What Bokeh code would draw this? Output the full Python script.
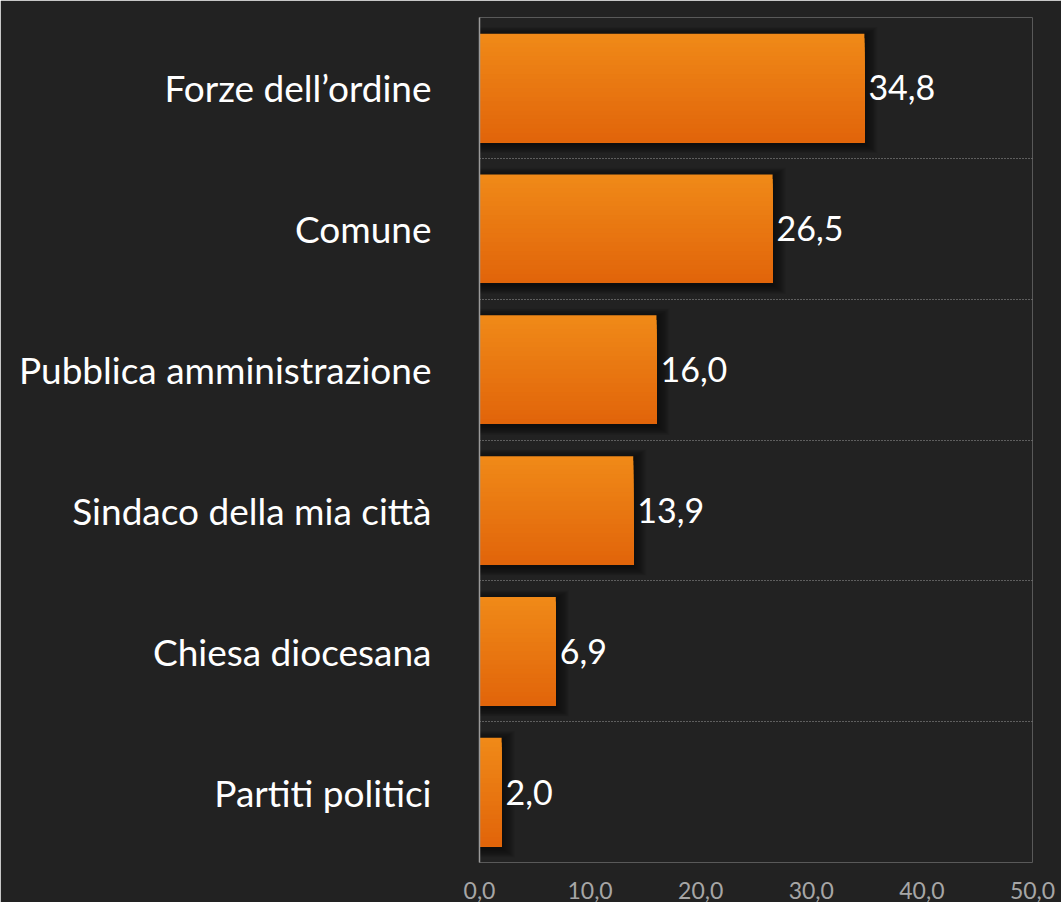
from bokeh.plotting import figure
from bokeh.models import ColumnDataSource, FixedTicker, Label, Range1d
from bokeh.embed import file_html
from bokeh.resources import INLINE
from bokeh.core.properties import value

# ---- data ----
categories = ["Forze dell’ordine", "Comune", "Pubblica amministrazione",
              "Sindaco della mia città", "Chiesa diocesana", "Partiti politici"]
values = [34.8, 26.5, 16.0, 13.9, 6.9, 2.0]
value_labels = ["34,8", "26,5", "16,0", "13,9", "6,9", "2,0"]
x_ticks = [0, 10, 20, 30, 40, 50]
x_tick_labels = ["0,0", "10,0", "20,0", "30,0", "40,0", "50,0"]

# ---- style ----
BG = "#222222"
FONT = "Lato"
BAR_H = 0.77
TOP_COL = (240, 138, 24)
BOT_COL = (225, 100, 10)
N_STRIPS = 24

n = len(categories)
ypos = [n - 1 - i for i in range(n)]

p = figure(width=1061, height=902, output_backend="svg", toolbar_location=None,
           x_range=Range1d(0, 50), y_range=Range1d(-0.5, n - 0.5),
           min_border_left=479, min_border_right=29, min_border_top=17,
           min_border_bottom=40)
p.background_fill_color = BG
p.border_fill_color = BG
p.outline_line_color = None

# soft shadow
for k in range(1, 15):
    src = ColumnDataSource(dict(y=[y - 0.015 for y in ypos],
                                right=[v + 0.085 * k for v in values]))
    p.hbar(y="y", left=0, right="right", height=BAR_H + 0.009 * k, source=src,
           fill_color="black", fill_alpha=0.045, line_color=None)

# gradient bars: overlapping strips, each reaching down to the bar's bottom
sy, sh, sr, sc = [], [], [], []
for y, v in zip(ypos, values):
    bottom = y - BAR_H / 2
    for j in range(N_STRIPS):
        top = y + BAR_H / 2 - j * BAR_H / N_STRIPS
        t = (j + 0.5) / N_STRIPS
        c = tuple(int(round(a + (b - a) * t)) for a, b in zip(TOP_COL, BOT_COL))
        sy.append((top + bottom) / 2)
        sh.append(top - bottom)
        sr.append(v)
        sc.append("#%02x%02x%02x" % c)
p.hbar(y="y", left=0, right="right", height="h",
       source=ColumnDataSource(dict(y=sy, h=sh, right=sr, color=sc)),
       fill_color="color", line_color=None)

# value labels
p.text(x="x", y="y", text="t",
       source=ColumnDataSource(dict(x=values, y=ypos, t=value_labels)),
       x_offset=4, text_baseline="middle", text_align="left",
       text_color="white", text_font=value(FONT), text_font_size="34px")

# axes
p.yaxis.ticker = FixedTicker(ticks=ypos)
p.yaxis.major_label_overrides = {y: c for y, c in zip(ypos, categories)}
p.yaxis.major_label_text_color = "white"
p.yaxis.major_label_text_font = FONT
p.yaxis.major_label_text_font_size = "37px"
p.yaxis.major_label_standoff = 42
p.yaxis.major_tick_line_color = None
p.yaxis.minor_tick_line_color = None
p.yaxis.axis_line_color = "#9a9a9a"
p.yaxis.axis_line_width = 1.5

p.xaxis.ticker = FixedTicker(ticks=x_ticks)
p.xaxis.major_label_overrides = {t: l for t, l in zip(x_ticks, x_tick_labels)}
p.xaxis.major_label_text_color = "#a6a6a6"
p.xaxis.major_label_text_font = FONT
p.xaxis.major_label_text_font_size = "23px"
p.xaxis.major_label_standoff = 13
p.xaxis.major_tick_line_color = None
p.xaxis.minor_tick_line_color = None
p.xaxis.axis_line_color = None

# grid
p.xgrid.grid_line_color = None
p.ygrid.ticker = FixedTicker(ticks=[y - 0.5 for y in range(n + 1)])
p.ygrid.grid_line_color = "#9a9a9a"
p.ygrid.grid_line_dash = "1 2"
p.ygrid.grid_line_width = 1

# stray tick label fragment at the far bottom left
p.add_layout(Label(x=-476, y=-33, x_units="screen", y_units="screen", text=",0",
                   text_color="#a6a6a6", text_font=FONT, text_font_size="23px",
                   level="overlay"))

open("out.html", "w").write(file_html(p, INLINE))
